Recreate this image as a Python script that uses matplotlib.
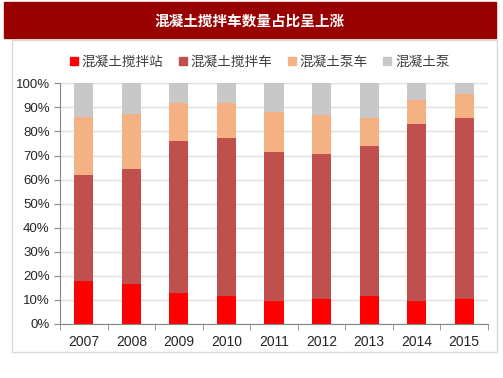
import numpy as np
import matplotlib.pyplot as plt
from matplotlib.patches import Rectangle
from matplotlib.lines import Line2D

plt.rcParams['font.family'] = ['Liberation Sans', 'Noto Sans CJK SC', 'DejaVu Sans']

# data (percent of total)
years = ['2007', '2008', '2009', '2010', '2011', '2012', '2013', '2014', '2015']
zhan = [18.0, 16.6, 12.9, 11.5, 9.7, 10.5, 11.6, 9.7, 10.5]       # 混凝土搅拌站
che = [43.8, 47.9, 63.3, 65.6, 61.8, 60.0, 62.5, 73.5, 75.1]      # 混凝土搅拌车
bengche = [24.3, 22.9, 15.8, 14.6, 16.4, 16.3, 11.5, 10.0, 9.8]   # 混凝土泵车
beng = [13.9, 12.6, 8.0, 8.3, 12.1, 13.2, 14.4, 6.8, 4.6]         # 混凝土泵

series = [zhan, che, bengche, beng]
names = ['混凝土搅拌站', '混凝土搅拌车', '混凝土泵车', '混凝土泵']
colors = ['#FF0000', '#C0504D', '#F4B183', '#C8C8C8']

W, H = 503, 378
fig = plt.figure(figsize=(W / 100, H / 100), dpi=100)

# title bar
fig.patches.append(Rectangle((4 / W, 1 - 38 / H), 492 / W, 36 / H,
                             transform=fig.transFigure, color='#990000', zorder=0))
fig.text(250 / W, 1 - 21 / H, '混凝土搅拌车数量占比呈上涨', color='white',
         fontsize=10.5, fontweight='bold', ha='center', va='center',
         family=['Noto Sans CJK SC', 'DejaVu Sans'])
# chart frame
fig.patches.append(Rectangle((12 / W, 1 - 352 / H), 485 / W, 312 / H,
                             transform=fig.transFigure, facecolor='none',
                             edgecolor='#D9D9D9', lw=1, zorder=0))

ax = fig.add_axes([60 / W, 1 - 324 / H, 428 / W, 240.7 / H])
x = np.arange(len(years))
bottom = np.zeros(len(years))
for vals, name, c in zip(series, names, colors):
    ax.bar(x, vals, 0.4, bottom=bottom, color=c, label=name, zorder=3)
    bottom += np.array(vals)

ax.set_xlim(-0.5, len(years) - 0.5)
ax.set_ylim(0, 100)
ax.set_yticks(np.arange(0, 101, 10))
ax.set_yticklabels([f'{v}%' for v in range(0, 101, 10)])
ax.set_xticks(x)
ax.set_xticklabels(years)
ax.set_xticks(np.arange(-0.5, len(years)), minor=True)
ax.tick_params(axis='x', which='major', length=0, labelsize=10, pad=8, colors='#262626')
ax.tick_params(axis='x', which='minor', length=4, color='#868686')
ax.tick_params(axis='y', length=4, labelsize=9.5, colors='#262626')
ax.tick_params(axis='y', which='both', color='#868686')
ax.grid(axis='y', color='#E0E0E0', lw=1, zorder=0)
for s in ['top', 'right']:
    ax.spines[s].set_visible(False)
for s in ['left', 'bottom']:
    ax.spines[s].set_color('#868686')

handles = [Line2D([], [], marker='s', ls='', color=c, markersize=6) for c in colors]
fig.legend(handles, names, loc='center', bbox_to_anchor=(259 / W, 1 - 62 / H),
           ncol=4, frameon=False, handlelength=0.8, handletextpad=0.2,
           columnspacing=1.0,
           prop={'family': ['Noto Sans CJK SC', 'DejaVu Sans'], 'size': 9.8},
           labelcolor='#404040')

fig.savefig('out.png', dpi=100)
